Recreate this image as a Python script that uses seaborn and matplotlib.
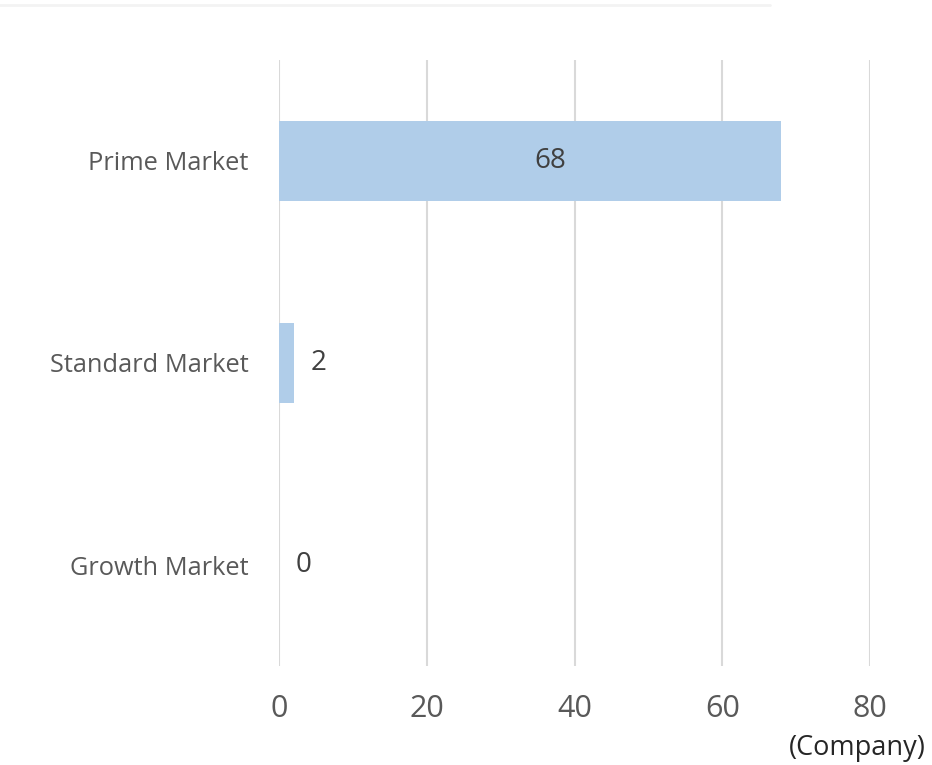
import matplotlib
matplotlib.use("Agg")
import matplotlib.pyplot as plt
import seaborn as sns
import pandas as pd
from matplotlib.lines import Line2D

categories = ["Prime Market", "Standard Market", "Growth Market"]
values = [68, 2, 0]
xticks = [0, 20, 40, 60, 80]
unit_label = "(Company)"

sns.set_theme(style="white")
plt.rcParams['font.family'] = ['Open Sans', 'DejaVu Sans']

df = pd.DataFrame({"market": categories, "count": values})

fig = plt.figure(figsize=(9.32, 7.65), dpi=100)
ax = fig.add_axes([0.2994, 0.1294, 0.6341, 0.7922])

sns.barplot(data=df, y="market", x="count", orient="h", color="#b0cde9",
            saturation=1, width=0.4, ax=ax, zorder=3, edgecolor="none", linewidth=0)

ax.set_xlim(0, 80)
ax.set_xticks(xticks)
ax.set_xticklabels([str(t) for t in xticks])
ax.set_ylim(2.5, -0.5)
ax.grid(axis="x", color="#d9d9d9", linewidth=1.5, zorder=0)
ax.grid(axis="y", visible=False)
for s in ax.spines.values():
    s.set_visible(False)
ax.set_xlabel("")
ax.set_ylabel("")
ax.tick_params(axis="x", length=0, pad=20, labelsize=22, labelcolor="#595959")
ax.tick_params(axis="y", length=0, pad=22, labelsize=18.3, labelcolor="#595959")

cont = ax.containers[0]
for rect, v in zip(cont.patches, values):
    cy = rect.get_y() + rect.get_height() / 2
    if v > 10:
        ax.text(v / 2 + 2.7, cy, str(v), ha="center", va="center",
                fontsize=20, color="#404040", zorder=4)
    else:
        ax.annotate(str(v), xy=(v, cy), xytext=(12, 0), textcoords="offset points",
                    ha="left", va="center", fontsize=20, color="#404040", zorder=4)

fig.text(0.993, 0.022, unit_label, ha="right", va="center", fontsize=19.5, color="#262626")
fig.add_artist(Line2D([0, 0.826], [0.993, 0.993], transform=fig.transFigure,
                      color="#f3f3f3", linewidth=2))

fig.savefig("out.png", dpi=100)
